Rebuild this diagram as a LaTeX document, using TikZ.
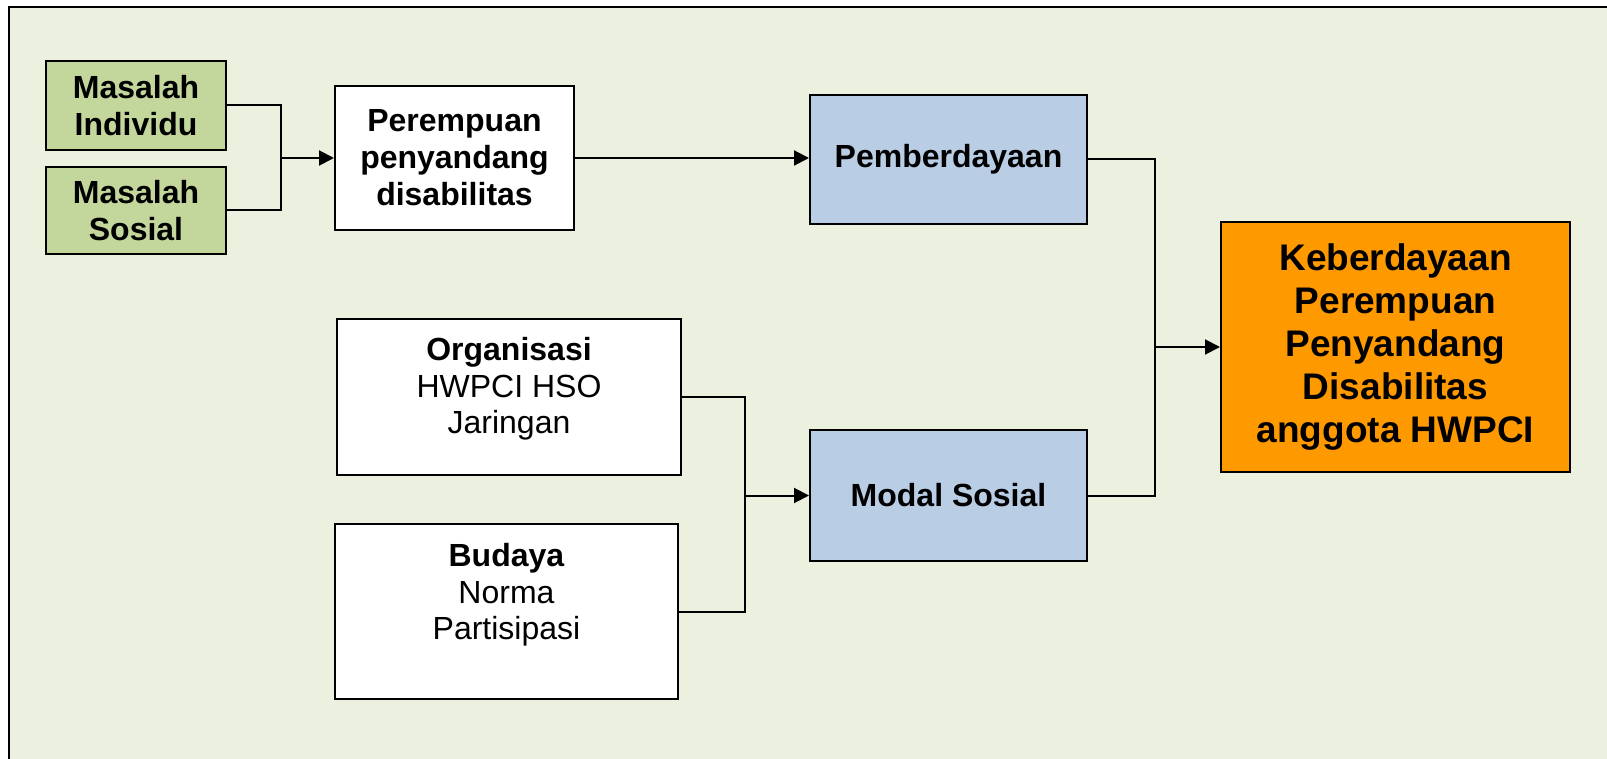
\documentclass[tikz,border=0pt]{standalone}
\usepackage{fontspec}
\setmainfont{Liberation Sans}
\usetikzlibrary{arrows.meta}

\definecolor{bggreen}{HTML}{EBF1DE}
\definecolor{olivebox}{HTML}{C3D69B}
\definecolor{bluebox}{HTML}{B9CDE5}
\definecolor{orangebox}{HTML}{FF9900}

\tikzset{
  box/.style={draw, line width=1pt, inner sep=0pt, align=center,
    font=\bfseries\fontsize{16}{18.5}\selectfont},
  masalahbox/.style={box, fill=olivebox, minimum width=90pt},
  whitebox/.style={box, fill=white},
  bluebx/.style={box, fill=bluebox, minimum width=138.5pt},
  goalbox/.style={box, fill=orangebox, font=\bfseries\fontsize{18.5}{21.5}\selectfont},
  subtext/.style={inner sep=0pt, align=center, anchor=north,
    font=\fontsize{16}{18.3}\selectfont},
  link/.style={line width=1pt},
  arr/.style={link, -{Triangle[length=7.5pt,width=7.5pt]}},
}

\begin{document}
\begin{tikzpicture}[x=0.5pt, y=-0.5pt]
    \useasboundingbox (0,0) rectangle (1607,759);

    % background frame
    \fill[bggreen] (9,7) rectangle (1607,759);
    \draw[line width=1pt] (9,759) -- (9,7) -- (1607,7);

    % left column
    \node[masalahbox, minimum height=44.5pt] (ind) at (136,105.5) {Masalah\\Individu};
    \node[masalahbox, minimum height=43.5pt] (sos) at (136,210.5) {Masalah\\Sosial};
    \node[whitebox, minimum width=119.5pt, minimum height=72pt] (per) at (454.5,158) {Perempuan\\penyandang\\disabilitas};

    % organisasi and budaya
    \node[whitebox, minimum width=172pt, minimum height=78pt] (org) at (509,397) {};
    \node[subtext] (orgtxt) at ([yshift=-9.5pt]org.north) {\textbf{Organisasi}\\HWPCI HSO\\Jaringan};
    \node[whitebox, minimum width=171.5pt, minimum height=87.5pt] (bud) at (506.5,611.5) {};
    \node[subtext] (budtxt) at ([yshift=-10pt]bud.north) {\textbf{Budaya}\\Norma\\Partisipasi};

    % middle column
    \node[bluebx, minimum height=64.5pt] (pem) at (948.5,159.5) {Pemberdayaan};
    \node[bluebx, minimum height=65.5pt] (mod) at (948.5,495.5) {Modal Sosial};

    % result
    \node[goalbox, minimum width=174.5pt, minimum height=125pt] (keb) at (1395.5,347)
      {Keberdayaan\\Perempuan\\Penyandang\\Disabilitas\\anggota HWPCI};

    % junction points
    \coordinate (j1) at (281,158);
    \coordinate (j2) at (745,495.5);
    \coordinate (j3) at (1155,347);

    % connectors
    \draw[link] (ind.east) -| (j1);
    \draw[link] (sos.east) -| (j1);
    \draw[arr] (j1) -- (per.west);
    \draw[arr] (per.east) -- (per.east -| pem.west);

    \draw[link] (org.east) -| (j2);
    \draw[link] (bud.east) -| (j2);
    \draw[arr] (j2) -- (mod.west);

    \draw[link] (pem.east) -| (j3);
    \draw[link] (mod.east) -| (j3);
    \draw[arr] (j3) -- (keb.west);

\end{tikzpicture}
\end{document}
